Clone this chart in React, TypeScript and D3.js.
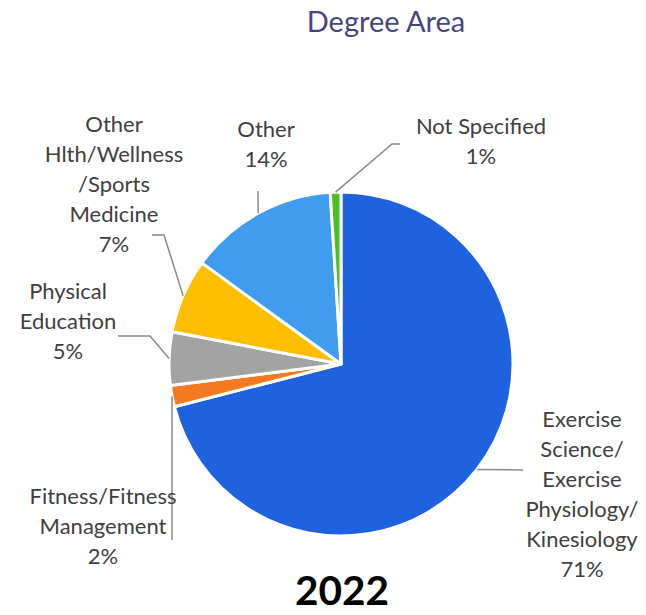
import React from "react";
import * as d3 from "d3";

const categories = [
  "Exercise Science/Exercise Physiology/Kinesiology",
  "Fitness/Fitness Management",
  "Physical Education",
  "Other Hlth/Wellness/Sports Medicine",
  "Other",
  "Not Specified",
];
const values = [71, 2, 5, 7, 14, 1];
const labelLines = [
  ["Exercise", "Science/", "Exercise", "Physiology/", "Kinesiology"],
  ["Fitness/Fitness", "Management"],
  ["Physical", "Education"],
  ["Other", "Hlth/Wellness", "/Sports", "Medicine"],
  ["Other"],
  ["Not Specified"],
];
const colors = ["#1f62e0", "#f47a22", "#a3a3a3", "#fdbd00", "#409cef", "#4fc022"];

// layout for labels (positions only)
const labelLayout = [
  { x: 582, y: 418, leader: [[523, 470]] },
  { x: 103, y: 495, leader: [[172, 540]] },
  { x: 68, y: 290, leader: [[150, 336], [118, 336]] },
  { x: 114, y: 123, leader: [[164, 235], [152, 235]] },
  { x: 266, y: 128, leader: [[258, 191]] },
  { x: 481, y: 125, leader: [[392, 144], [400, 144]] },
];

const W = 646;
const H = 615;
const cx = 341;
const cy = 364;
const R = 172;
const LH = 30;

export default function App() {
  const total = d3.sum(values);
  const pie = d3.pie<number>().sort(null).value((d) => d)(values);
  const arc = d3.arc<d3.PieArcDatum<number>>().innerRadius(0).outerRadius(R);
  const edge = d3.arc<d3.PieArcDatum<number>>().innerRadius(R).outerRadius(R);
  const font = "Lato, 'Open Sans', sans-serif";

  return (
    <svg
      width={W}
      height={H}
      style={{ position: "absolute", left: 0, top: 0, background: "#fff" }}
    >
      <text
        x={386}
        y={32}
        textAnchor="middle"
        fontFamily={font}
        fontSize={29}
        fill="#45467f"
      >
        Degree Area
      </text>
      <g transform={`translate(${cx},${cy})`}>
        {pie.map((p, i) => (
          <path
            key={categories[i]}
            d={arc(p) || ""}
            fill={colors[i]}
            stroke="#fff"
            strokeWidth={3}
            strokeLinejoin="round"
          />
        ))}
      </g>
      {pie.map((p, i) => {
        const [ex, ey] = edge.centroid(p);
        const pts = [[cx + ex, cy + ey], ...labelLayout[i].leader];
        return (
          <path
            key={"l" + i}
            d={d3.line()(pts as [number, number][]) || ""}
            fill="none"
            stroke="#8a8a8a"
            strokeWidth={1.5}
          />
        );
      })}
      {pie.map((p, i) => {
        const L = labelLayout[i];
        const lines = [
          ...labelLines[i],
          `${Math.round((values[i] / total) * 100)}%`,
        ];
        return (
          <text
            key={"t" + i}
            textAnchor="middle"
            dominantBaseline="central"
            fontFamily={font}
            fontSize={22}
            fill="#404040"
          >
            {lines.map((s, j) => (
              <tspan key={j} x={L.x} y={L.y + j * LH}>
                {s}
              </tspan>
            ))}
          </text>
        );
      })}
      <text
        x={342}
        y={605}
        textAnchor="middle"
        fontFamily={font}
        fontWeight="bold"
        fontSize={41}
        textLength={94}
        lengthAdjust="spacingAndGlyphs"
        fill="#000"
      >
        2022
      </text>
    </svg>
  );
}
